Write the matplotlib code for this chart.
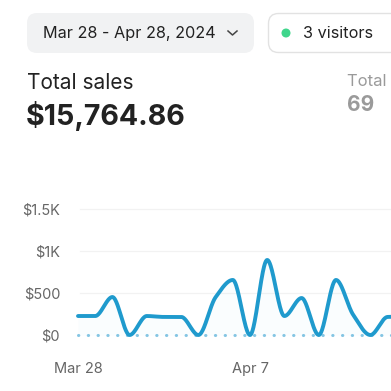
import numpy as np
import matplotlib
matplotlib.use("Agg")
import matplotlib.pyplot as plt
from matplotlib.patches import FancyBboxPatch, Circle

plt.rcParams['font.family'] = ['Inter', 'DejaVu Sans']

# daily sales, Mar 28 onwards (only the visible part of the chart)
days = ['Mar 28', 'Mar 29', 'Mar 30', 'Mar 31', 'Apr 1', 'Apr 2', 'Apr 3', 'Apr 4',
        'Apr 5', 'Apr 6', 'Apr 7', 'Apr 8', 'Apr 9', 'Apr 10', 'Apr 11', 'Apr 12',
        'Apr 13', 'Apr 14', 'Apr 15', 'Apr 16']
sales = [226, 226, 452, 0, 226, 215, 215, 0, 450, 655, 0, 893, 226, 440, 0, 655,
         240, 0, 215, 220]
yticks = [0, 500, 1000, 1500]
ytick_labels = ['$0', '$500', '$1K', '$1.5K']
xtick_labels = ['Mar 28', 'Apr 7']

W = H = 391
LINE = '#1f9acd'


def pchip(x, y, xs):
    # monotone cubic (Fritsch-Carlson) so the curve looks like the web chart
    x = np.asarray(x, float)
    y = np.asarray(y, float)
    h = np.diff(x)
    d = np.diff(y) / h
    m = np.zeros_like(y)
    for i in range(1, len(y) - 1):
        if d[i - 1] * d[i] > 0:
            w1 = 2 * h[i] + h[i - 1]
            w2 = h[i] + 2 * h[i - 1]
            m[i] = (w1 + w2) / (w1 / d[i - 1] + w2 / d[i])
    m[0] = d[0]
    m[-1] = d[-1]
    idx = np.clip(np.searchsorted(x, xs) - 1, 0, len(x) - 2)
    t = (xs - x[idx]) / h[idx]
    h00 = 2 * t**3 - 3 * t**2 + 1
    h10 = t**3 - 2 * t**2 + t
    h01 = -2 * t**3 + 3 * t**2
    h11 = t**3 - t**2
    return h00 * y[idx] + h10 * h[idx] * m[idx] + h01 * y[idx + 1] + h11 * h[idx] * m[idx + 1]


def fx(px):
    return px / W


def fy(py):
    return 1 - py / H


fig = plt.figure(figsize=(3.91, 3.91), dpi=100)

# header pills
ax0 = fig.add_axes([0, 0, 1, 1])
ax0.set_xlim(0, W)
ax0.set_ylim(H, 0)
ax0.axis('off')
ax0.add_patch(FancyBboxPatch((27, 13), 227, 40, boxstyle='round,pad=0,rounding_size=10',
                             fc='#f1f2f3', ec='none'))
ax0.text(43, 33.5, 'Mar 28 - Apr 28, 2024', fontsize=11.7, color='#222222', va='center')
ax0.plot([228, 232.5, 237], [31, 35, 31], color='#444444', lw=1.1)
ax0.add_patch(FancyBboxPatch((268.5, 13.5), 150, 39, boxstyle='round,pad=0,rounding_size=10',
                             fc='white', ec='#e2e2e2', lw=1))
ax0.add_patch(Circle((286, 33), 3.8, color='#3fd68c'))
ax0.text(303, 33.5, '3 visitors', fontsize=11.7, color='#222222', va='center')

ax0.text(27, 83, 'Total sales', fontsize=15, color='#222222', va='center')
ax0.text(26, 116, '$15,764.86', fontsize=20.6, color='#222222', va='center', fontweight='bold')
ax0.text(347, 81, 'Total orders', fontsize=12, color='#9a9a9a', va='center', clip_on=True)
ax0.text(347, 105, '69', fontsize=15, color='#9a9a9a', va='center', fontweight='bold')

# chart area: day 0 at x=78px, 17.2 px per day; $0 at y=335px, 42 px per $500
left_px, right_px = 74, 391
top_px, bot_px = 200, 345
ppd = 17.2
ppv = 42 / 500
ax = fig.add_axes([fx(left_px), fy(bot_px), (right_px - left_px) / W, (bot_px - top_px) / H])
ax.set_xlim((left_px - 78) / ppd, (right_px - 78) / ppd)
ax.set_ylim(-(bot_px - 335) / ppv, (335 - top_px) / ppv)

x = np.arange(len(sales))
xs = np.linspace(0, len(sales) - 1, 800)
ys = pchip(x, sales, xs)

for v in yticks[1:]:
    ax.axhline(v, color='#f2f2f2', lw=0.9, xmin=(80 - left_px) / (right_px - left_px), zorder=0)
ax.plot([0, len(sales)], [0, 0], color='#86c6e4', lw=2.2, ls=(0, (0.1, 3.1)),
        dash_capstyle='round', zorder=1)
ax.fill_between(xs, ys, 0, color=LINE, alpha=0.02, lw=0, zorder=1)
ax.plot(xs, ys, color=LINE, lw=2.8, solid_capstyle='round', zorder=2)

ax.set_yticks(yticks)
ax.set_yticklabels(ytick_labels)
ax.set_xticks([0, 10])
ax.set_xticklabels(xtick_labels)
ax.tick_params(length=0, labelsize=10.5, colors='#666666')
ax.tick_params(axis='y', pad=10)
ax.tick_params(axis='x', pad=12)
for s in ax.spines.values():
    s.set_visible(False)

fig.savefig('out.png', dpi=100)
